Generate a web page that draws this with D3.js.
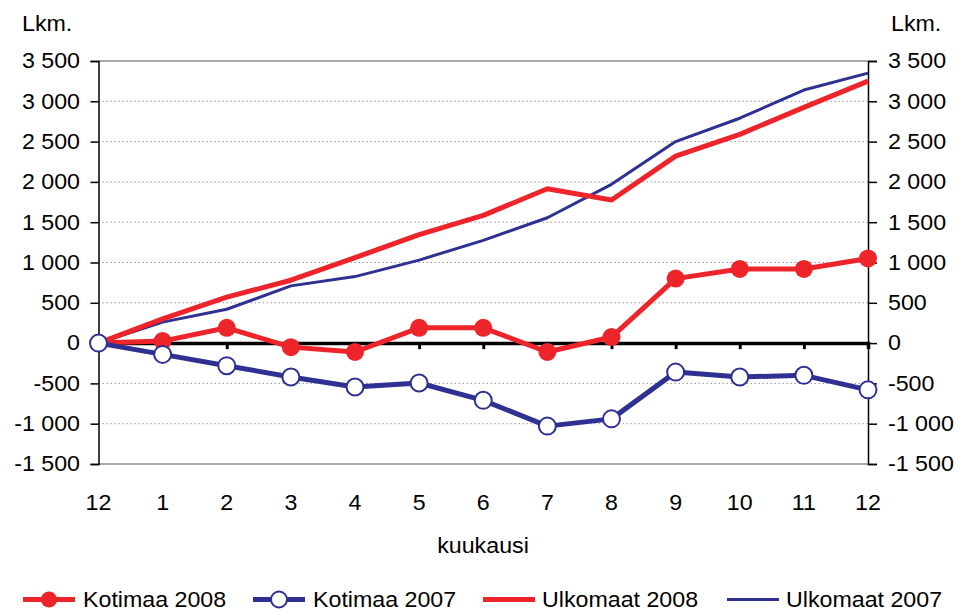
<!DOCTYPE html>
<html><head><meta charset="utf-8">
<script src="https://cdn.jsdelivr.net/npm/d3@7"></script>
<style>body{margin:0;background:#fff}svg text{font-family:"Liberation Sans",Arial,sans-serif;fill:#000}</style>
</head><body>
<svg id="c" width="958" height="612"></svg>
<script>
const months = ["12","1","2","3","4","5","6","7","8","9","10","11","12"];
const kotimaa2008 = [0,25,190,-50,-110,190,190,-110,75,800,920,920,1050];
const kotimaa2007 = [0,-140,-280,-420,-545,-495,-710,-1030,-940,-360,-420,-400,-580];
const ulkomaat2008 = [0,300,570,780,1060,1345,1585,1915,1775,2320,2590,2925,3250];
const ulkomaat2007 = [0,260,420,710,825,1030,1275,1555,1970,2500,2790,3140,3350];
const yTicks = [-1500,-1000,-500,0,500,1000,1500,2000,2500,3000,3500];

const RED = "#ee242b", BLUE = "#2e3192";
const SX = 1.08, FS = 21.5;
const svg = d3.select("#c");
const L = 98.5, R = 868, T = 61, B = 464;
const idx = months.map((d,i)=>i);
const x = d3.scalePoint().domain(idx).range([L,R]);
const y = d3.scaleLinear().domain([-1500,3500]).range([B,T]);
const fmt = v => (v<0?"-":"") + d3.format(",")(Math.abs(v)).replace(/,/g," ");

function txt(g, px, py, s, anchor){
  return g.append("text").attr("transform",`translate(${px},${py}) scale(${SX},1)`)
    .attr("text-anchor",anchor||"start").attr("font-size",FS).text(s);
}

// grid
svg.append("g").selectAll("line").data(yTicks.filter(v=>v!==0)).join("line")
  .attr("x1",L).attr("x2",R).attr("y1",d=>y(d)).attr("y2",d=>y(d))
  .attr("stroke",d=>(d===3500||d===-1500)?"#8c8c8c":"#9a9a9a")
  .attr("stroke-width",d=>(d===3500||d===-1500)?1.5:1)
  .attr("stroke-dasharray",d=>(d===3500||d===-1500)?null:"1.5,2.5");

// left axis
const ly = svg.append("g").attr("transform",`translate(${L},0)`)
  .call(d3.axisLeft(y).tickValues(yTicks).tickSize(8).tickPadding(18.5).tickFormat(fmt));
ly.select(".domain").attr("stroke","#000").attr("stroke-width",1.5);
ly.selectAll(".tick line").attr("stroke","#000").attr("stroke-width",1.5);
ly.selectAll("text").attr("font-size",FS).attr("font-family","Liberation Sans, Arial, sans-serif")
  .attr("x",-18.5/SX).attr("transform",`scale(${SX},1)`);
// right axis
const ry = svg.append("g").attr("transform",`translate(${R},0)`)
  .call(d3.axisRight(y).tickValues(yTicks).tickSize(9).tickPadding(20).tickFormat(fmt));
ry.select(".domain").attr("stroke","#000").attr("stroke-width",1.5);
ry.selectAll(".tick line").attr("stroke","#000").attr("stroke-width",1.5);
ry.selectAll("text").attr("font-size",FS).attr("font-family","Liberation Sans, Arial, sans-serif")
  .attr("x",20/SX).attr("transform",`scale(${SX},1)`);

// zero axis with category ticks
const zx = svg.append("g").attr("transform",`translate(0,${y(0)})`)
  .call(d3.axisBottom(x).tickSize(6).tickFormat(""));
zx.select(".domain").attr("stroke","#000").attr("stroke-width",3.5);
zx.selectAll(".tick line").attr("stroke","#000").attr("stroke-width",3);

// x labels
const xl = svg.append("g");
idx.forEach(i=>txt(xl, x(i), 510, months[i], "middle"));
txt(svg, 483, 553, "kuukausi", "middle");
txt(svg, 22, 31, "Lkm.");
txt(svg, 891, 31, "Lkm.");

const line = d3.line().x((d,i)=>x(i)).y(d=>y(d));
svg.append("path").datum(ulkomaat2007).attr("d",line).attr("fill","none").attr("stroke",BLUE).attr("stroke-width",3).attr("stroke-linejoin","round");
svg.append("path").datum(ulkomaat2008).attr("d",line).attr("fill","none").attr("stroke",RED).attr("stroke-width",5).attr("stroke-linejoin","round");
svg.append("path").datum(kotimaa2008).attr("d",line).attr("fill","none").attr("stroke",RED).attr("stroke-width",5).attr("stroke-linejoin","round");
svg.append("g").selectAll("circle").data(kotimaa2008).join("circle")
  .attr("cx",(d,i)=>x(i)).attr("cy",d=>y(d)).attr("r",9).attr("fill",RED);
svg.append("path").datum(kotimaa2007).attr("d",line).attr("fill","none").attr("stroke",BLUE).attr("stroke-width",5).attr("stroke-linejoin","round");
svg.append("g").selectAll("circle").data(kotimaa2007).join("circle")
  .attr("cx",(d,i)=>x(i)).attr("cy",d=>y(d)).attr("r",8.5).attr("fill","#fff").attr("stroke",BLUE).attr("stroke-width",2);

// legend
const leg = [
  {name:"Kotimaa 2008", c:RED, w:5, m:"fill", x0:23, tx:83},
  {name:"Kotimaa 2007", c:BLUE, w:5, m:"open", x0:253, tx:313},
  {name:"Ulkomaat 2008", c:RED, w:5, m:null, x0:483, tx:542},
  {name:"Ulkomaat 2007", c:BLUE, w:3, m:null, x0:727, tx:786}
];
const ly0 = 599.5;
const lg = svg.append("g");
leg.forEach(d=>{
  lg.append("line").attr("x1",d.x0).attr("x2",d.x0+52).attr("y1",ly0).attr("y2",ly0)
    .attr("stroke",d.c).attr("stroke-width",d.w);
  if(d.m) lg.append("circle").attr("cx",d.x0+26).attr("cy",ly0).attr("r",8)
    .attr("fill",d.m==="fill"?d.c:"#fff").attr("stroke",d.m==="open"?d.c:"none").attr("stroke-width",2);
  txt(lg, d.tx, 607, d.name);
});
</script>
</body></html>
